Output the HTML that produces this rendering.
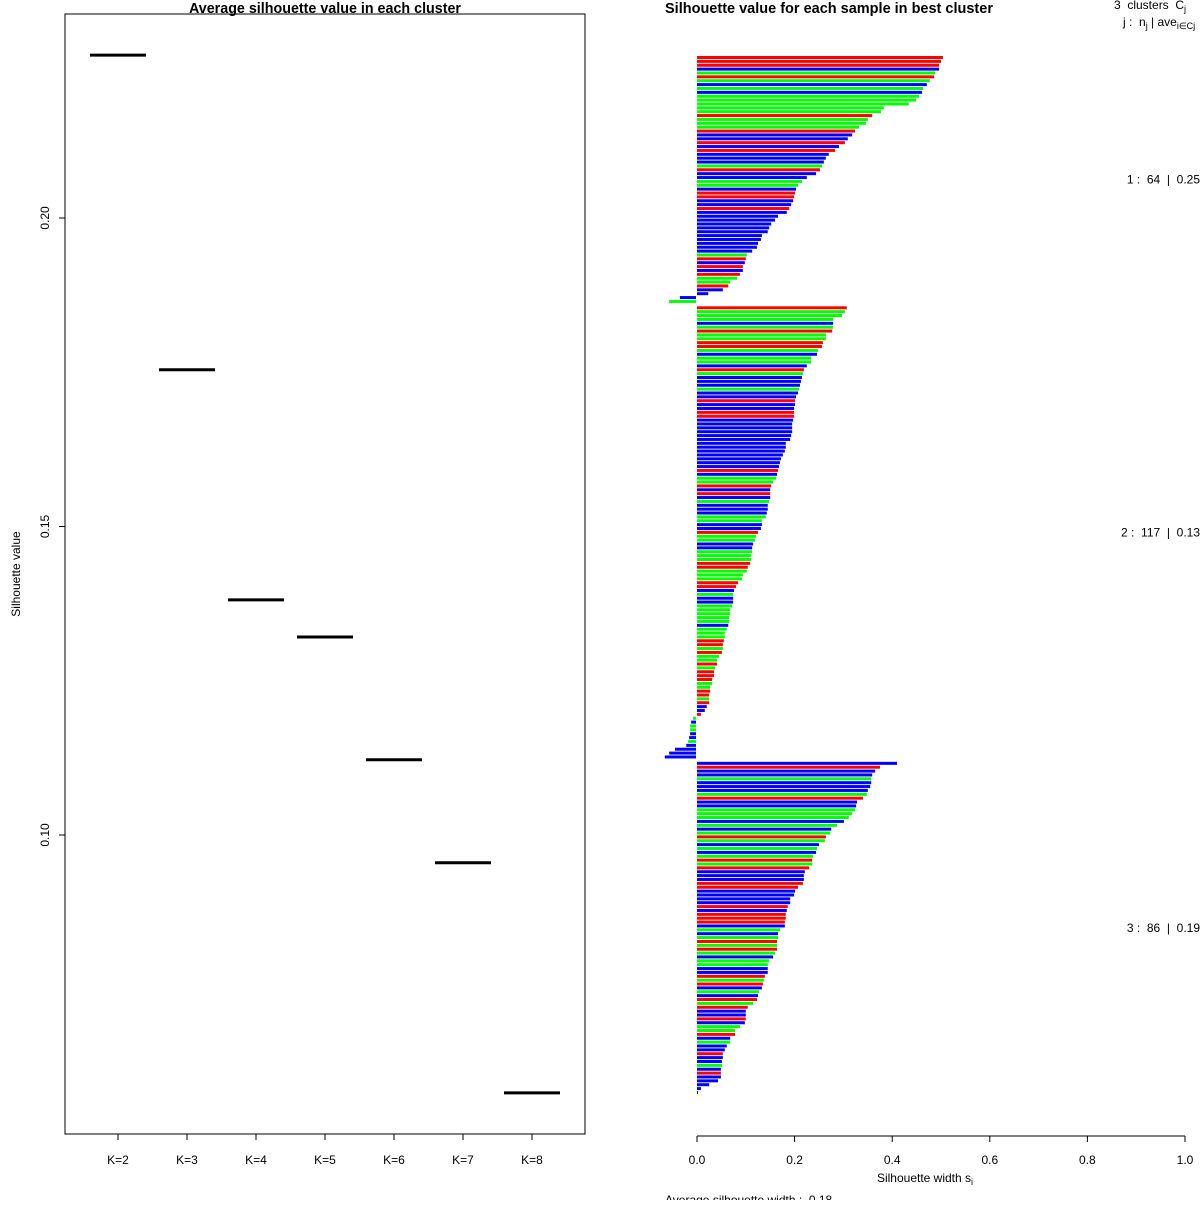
<!DOCTYPE html>
<html><head><meta charset="utf-8">
<style>
body{margin:0;background:#fff;}
svg text{font-family:"Liberation Sans",sans-serif;fill:#000;white-space:pre;}
</style></head>
<body>
<svg id="svg" width="1200" height="1200" xmlns="http://www.w3.org/2000/svg">
<rect width="1200" height="1200" fill="#fff"/>
<g id="left">
<text x="325" y="13" text-anchor="middle" font-size="14.3" font-weight="bold">Average silhouette value in each cluster</text>
<rect x="65" y="14" width="520" height="1120" fill="none" stroke="#000" stroke-width="1"/>
<text transform="translate(20,574) rotate(-90)" text-anchor="middle" font-size="12">Silhouette value</text>
</g>
<g id="right">
<text x="665" y="13" font-size="14.5" font-weight="bold">Silhouette value for each sample in best cluster</text>
<text x="1114" y="9" font-size="12">3  clusters  C<tspan font-size="9" dy="3">j</tspan></text>
<text x="1123" y="26" font-size="12">j :  n<tspan font-size="9" dy="3">j</tspan><tspan dy="-3"> | ave</tspan><tspan font-size="9" dy="3">i∈Cj</tspan><tspan dy="-3">  s</tspan><tspan font-size="9" dy="3">i</tspan></text>
<text x="925" y="1182" text-anchor="middle" font-size="12">Silhouette width s<tspan font-size="9" dy="3">i</tspan></text>
<text x="665" y="1204" font-size="12">Average silhouette width :  0.18</text>
</g>
</svg>
<script>
const kLabels = ["K=2","K=3","K=4","K=5","K=6","K=7","K=8"];
const avgSil = [0.2264,0.1754,0.1381,0.1321,0.1122,0.0955,0.0582];
const yTicks = [0.10,0.15,0.20];
const yTickLabels = ["0.10","0.15","0.20"];

const clusterSizes = [64,117,86];
const clusterAvg = ["0.25","0.13","0.19"];
const sil1 = [.504,.500,.496,.496,.488,.486,.477,.471,.463,.461,.455,.449,.434,.383,.377,.359,.350,.346,.332,.324,.318,.309,.303,.291,.283,.270,.264,.260,.256,.252,.244,.225,.215,.207,.203,.201,.199,.197,.193,.189,.184,.166,.160,.152,.148,.145,.133,.131,.125,.123,.113,.102,.100,.098,.094,.094,.088,.082,.068,.064,.053,.023,-.033,-.055];
const col1 = "rrrbgrgbgb"+"gggggrgggr"+"bbrbrbbbgr"+"bbggbrrbbr"+"b"+"bbbbbbbbbb"+"grbrbrggrb"+"bbg";
const sil2 = [.307,.303,.297,.279,.279,.279,.277,.264,.264,.258,.256,.248,.246,.234,.234,.225,.219,.217,.215,.213,.211,.209,.207,.203,.201,.201,.199,.199,.199,.197,.195,.195,.195,.193,.191,.182,.182,.180,.176,.172,.170,.168,.166,.164,.162,.156,.152,.150,.150,.150,.148,.145,.145,.143,.141,.133,.133,.131,
.125,.121,.119,.115,.113,.113,.111,.111,.109,.104,.102,.094,.092,.084,.080,.076,.074,.074,.074,.072,.068,.068,.066,.066,.064,.061,.057,.057,.055,.053,.053,.051,.045,.041,.041,.037,.035,.035,.031,.031,.027,.027,.025,.025,.025,.020,.016,.008,
-.006,-.010,-.012,-.012,-.012,-.014,-.016,-.020,-.043,-.055,-.064];
const col2 = "rgggbgrggr"+"rgbggbrgbb"+"bgbbrbbrrb"+"bbbbbbbbbb"+"bbrbggrbrb"+"gbbbggbb"+
  "rggbbgggrr"+"gggrrbgbbg"+"ggggbgggrr"+"grggrgrrrg"+"grrgrbbr"+"gbggbbgbbbb";
const sil3 = [.410,.375,.365,.359,.357,.357,.355,.350,.348,.340,.328,.326,.324,.318,.311,.301,.287,.275,.273,.264,.262,.250,.246,.244,.238,.236,.236,.230,.221,.219,.219,.217,.207,.201,.199,.191,.191,.186,.184,.182,.182,.180,.180,.170,.166,.166,.164,.164,.164,.160,.156,.148,.145,.145,.145,.139,.137,.135,.133,.127,.125,.123,.115,.104,.100,.100,.100,.098,.088,.078,.078,.068,.068,.061,.057,.053,.053,.051,.051,.049,.049,.049,.043,.025,.008,.002];
const col3 = "brbbgbbbgr"+"bbgggbgbgr"+"gbgbgrgrbb"+"brrbbbbrbr"+"rrbgbgrgrg"+"bggbbrgrbg"+"brgrbbrbgg"+"rbgbbrbbgb"+"rbbbbb";
const xTicks = [0,0.2,0.4,0.6,0.8,1.0];
const xTickLabels = ["0.0","0.2","0.4","0.6","0.8","1.0"];

const NS="http://www.w3.org/2000/svg";
const L=document.getElementById('left'), R=document.getElementById('right');
function mk(tag,attrs,parent,txt){const e=document.createElementNS(NS,tag);for(const k in attrs)e.setAttribute(k,attrs[k]);if(txt!==undefined)e.textContent=txt;parent.appendChild(e);return e;}

const yL = v => 218 + (0.20 - v)*6170;
const xL = i => 118 + 69*i;
mk('line',{x1:65,x2:65,y1:yL(0.20),y2:yL(0.10),stroke:'#000'},L);
yTicks.forEach((t,i)=>{
  const tk=mk('line',{x1:59,x2:65,y1:yL(t),y2:yL(t),stroke:'#000'},L);
  
  
  const lb=mk('text',{transform:`translate(49,${yL(t)}) rotate(-90)`,'text-anchor':'middle','font-size':12},L,yTickLabels[i]);
  
  
});
mk('line',{x1:xL(0),x2:xL(6),y1:1134,y2:1134,stroke:'#000'},L);
kLabels.forEach((k,i)=>{
  const tk=mk('line',{x1:xL(i),x2:xL(i),y1:1134,y2:1140,stroke:'#000'},L);
  
  
  const lb=mk('text',{x:xL(i),y:1164,'text-anchor':'middle','font-size':12},L,k);
  
  
  const seg=mk('line',{x1:xL(i)-28,x2:xL(i)+28,y1:yL(avgSil[i]),y2:yL(avgSil[i]),stroke:'#000','stroke-width':3},L);
  
  
});

const x0=697, sc=488;
const xR = v => x0 + v*sc;
const colors={r:'#ff0000',g:'#00ff00',b:'#0000ff'};
const pitch=3.872, gap=2.5;
let gi=0;
[[sil1,col1],[sil2,col2],[sil3,col3]].forEach((cl,c)=>{
  const vals=cl[0], cols=cl[1];
  const yStart=56+gi*pitch+c*gap;
  vals.forEach((v,i)=>{
    const y=56+gi*pitch+c*gap;
    const w=Math.abs(v)*sc;
    const x = v>=0 ? x0 : 696 - w;
    const b=mk('rect',{x:x,y:y,width:Math.max(w,1),height:3,fill:colors[cols[i]]||'#0000ff'},R);
    
    
    gi++;
  });
  const yEnd=56+(gi-1)*pitch+c*gap+3;
  const lb=mk('text',{x:1200,y:(yStart+yEnd)/2+4,'text-anchor':'end','font-size':12},R,`${c+1} :  ${clusterSizes[c]}  |  ${clusterAvg[c]}`);
  
  
});
mk('line',{x1:xR(0),x2:xR(1),y1:1136,y2:1136,stroke:'#000'},R);
xTicks.forEach((t,i)=>{
  const tk=mk('line',{x1:xR(t),x2:xR(t),y1:1136,y2:1142,stroke:'#000'},R);
  
  
  const lb=mk('text',{x:xR(t),y:1164,'text-anchor':'middle','font-size':12},R,xTickLabels[i]);
  
  
});
</script>
</body></html>
